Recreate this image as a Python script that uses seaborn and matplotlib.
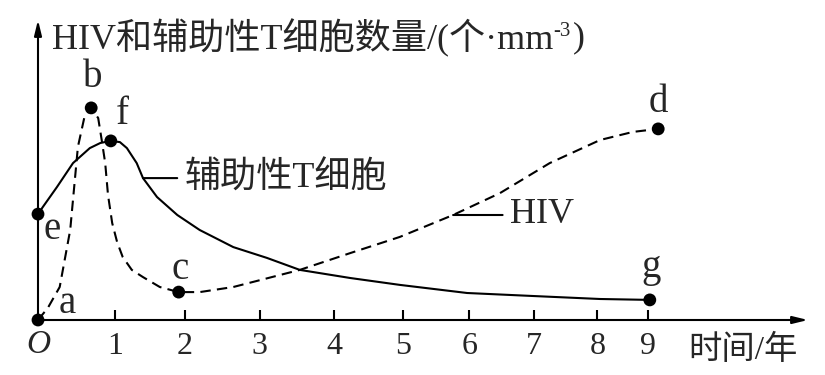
import matplotlib
matplotlib.use("Agg")
import matplotlib.pyplot as plt
from matplotlib.transforms import offset_copy
import seaborn as sns

# HIV curve (dashed)
hiv_x = [0, 0.14, 0.31, 0.46, 0.57, 0.66, 0.76, 0.86, 0.91, 0.96, 1.00, 1.06, 1.13, 1.21,
         1.34, 1.50, 1.74, 2.01, 2.31, 2.79, 3.74, 4.46, 5.17, 5.93, 6.60, 7.31, 8.03, 8.50, 8.86]
hiv_y = [0, 0.40, 1.10, 3.00, 5.77, 6.73, 7.07, 6.73, 6.00, 5.23, 4.17, 3.23, 2.60, 2.10,
         1.67, 1.43, 1.10, 0.93, 0.93, 1.10, 1.67, 2.23, 2.77, 3.50, 4.23, 5.23, 6.00, 6.27, 6.37]

# helper T cell curve (solid)
t_x = [0, 0.07, 0.27, 0.50, 0.74, 0.89, 1.04, 1.17, 1.27, 1.41, 1.50, 1.70, 1.99, 2.31,
       2.79, 3.27, 3.74, 4.46, 5.17, 6.13, 7.07, 8.03, 8.74]
t_y = [3.53, 3.77, 4.43, 5.23, 5.73, 5.90, 5.97, 5.93, 5.73, 5.23, 4.73, 4.10, 3.50, 3.00,
       2.43, 2.07, 1.67, 1.40, 1.17, 0.90, 0.80, 0.70, 0.67]

# labelled points
pt_names = ['a', 'b', 'c', 'd', 'e', 'f', 'g']
pt_x = [0, 0.76, 2.01, 8.86, 0, 1.04, 8.74]
pt_y = [0, 7.07, 0.93, 6.37, 3.53, 5.97, 0.67]

tick_labels = ['1', '2', '3', '4', '5', '6', '7', '8', '9']
tick_pos = [1.10, 2.10, 3.17, 4.23, 5.21, 6.16, 7.09, 7.99, 8.71]

sns.set_style('white')
plt.rcParams['font.family'] = ['Liberation Serif', 'Noto Sans CJK SC']

fig = plt.figure(figsize=(8.25, 3.75), dpi=100)
ax = fig.add_axes([38 / 825, 55 / 375, 770 / 825, 300 / 375])
ax.set_xlim(0, 11.0)
ax.set_ylim(0, 10)

sns.lineplot(x=hiv_x, y=hiv_y, sort=False, estimator=None, color='black', lw=1.5,
             linestyle=(0, (5, 3)), ax=ax)
sns.lineplot(x=t_x, y=t_y, sort=False, estimator=None, color='black', lw=1.5, ax=ax)
sns.scatterplot(x=pt_x, y=pt_y, color='black', s=85, edgecolor='none', zorder=5,
                clip_on=False, ax=ax)

# letter offsets (points)
offsets = {'a': (21, 12), 'b': (1, 22), 'c': (1, 16), 'd': (0, 19),
           'e': (10, -11), 'f': (8, 19), 'g': (1, 23)}
for name, x, y in zip(pt_names, pt_x, pt_y):
    ax.annotate(name, (x, y), xytext=offsets[name], textcoords='offset points',
                ha='center', va='center', fontsize=28, annotation_clip=False)

# curve labels with leader lines
ax.annotate('辅助性T细胞', (t_x[10], t_y[10]), xytext=(30, 0), textcoords='offset points',
            ha='left', va='center', fontsize=26,
            arrowprops=dict(arrowstyle='-', lw=1.5, color='black', relpos=(0, 0.5),
                            shrinkA=3, shrinkB=0))
ax.annotate('HIV', (hiv_x[23], hiv_y[23]), xytext=(41, 0), textcoords='offset points',
            ha='left', va='center', fontsize=26,
            arrowprops=dict(arrowstyle='-', lw=1.5, color='black', relpos=(0, 0.5),
                            shrinkA=3, shrinkB=0))

# axes drawn as arrows
for s in ax.spines.values():
    s.set_visible(False)
arrow = dict(arrowstyle='-|>,head_length=0.9,head_width=0.22', lw=1.5, color='black',
             shrinkA=0, shrinkB=0)
ax.annotate('', xy=(1, 0), xytext=(0, 0), xycoords='axes fraction', arrowprops=arrow)
ax.annotate('', xy=(0, 1), xytext=(0, 0), xycoords='axes fraction', arrowprops=arrow)

ax.set_xticks(tick_pos)
ax.set_xticklabels(tick_labels)
ax.set_yticks([])
ax.tick_params(axis='x', direction='in', length=7, width=1.5, pad=9, labelsize=23,
               bottom=True, color='black')
ax.set_xlabel('')
ax.set_ylabel('')

fig.text(38 / 825, 1 - 345 / 375, 'O', style='italic', fontsize=24, ha='center', va='center')
fig.text(688 / 825, 1 - 350 / 375, '时间/年', fontsize=24, ha='left', va='center')

# y axis title, with the superscript as its own text
t1 = fig.text(52 / 825, 1 - 38 / 375, 'HIV和辅助性T细胞数量/(个·mm', fontsize=26,
              ha='left', va='center')
fig.canvas.draw()
bb = t1.get_window_extent()
x_end = bb.x1 / fig.bbox.width
t2 = fig.text(x_end, 1 - 38 / 375, '-3', fontsize=15, ha='left', va='bottom',
              transform=offset_copy(fig.transFigure, fig=fig, x=0, y=-2, units='points'))
fig.canvas.draw()
bb2 = t2.get_window_extent()
fig.text(bb2.x1 / fig.bbox.width + 0.002, 1 - 38 / 375, ')', fontsize=26, ha='left', va='center')

fig.savefig('out.png', dpi=100)
